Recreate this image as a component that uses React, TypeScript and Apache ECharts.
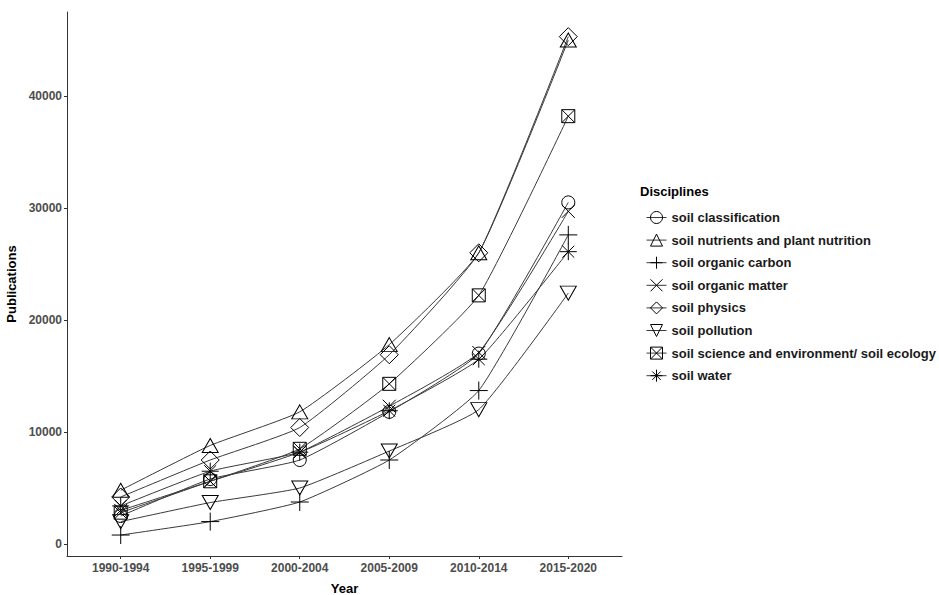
import React, { useEffect, useRef } from "react";
import * as echarts from "echarts";

const categories = ["1990-1994", "1995-1999", "2000-2004", "2005-2009", "2010-2014", "2015-2020"];
const seriesNames = [
  "soil classification",
  "soil nutrients and plant nutrition",
  "soil organic carbon",
  "soil organic matter",
  "soil physics",
  "soil pollution",
  "soil science and environment/ soil ecology",
  "soil water",
];
const classification = [2500, 5800, 7500, 11800, 17000, 30500];
const nutrients = [4800, 8800, 11800, 17800, 26000, 45000];
const carbon = [800, 2000, 3750, 7500, 13700, 27600];
const matter = [3000, 5600, 8200, 12300, 17100, 29700];
const physics = [4200, 7500, 10400, 16900, 26000, 45300];
const pollution = [2000, 3700, 5000, 8300, 12000, 22400];
const ecology = [2800, 5600, 8500, 14300, 22200, 38200];
const water = [3400, 6500, 8200, 11900, 16500, 26100];
const yTicks = [0, 10000, 20000, 30000, 40000];

const allValues = [classification, nutrients, carbon, matter, physics, pollution, ecology, water];

const symbols: { symbol: string; size: number | number[] }[] = [
  { symbol: "circle", size: 13 },
  { symbol: "path://M5,0L10,8.66L0,8.66Z", size: [16, 14] },
  { symbol: "path://M0,5L10,5M5,0L5,10", size: 18 },
  { symbol: "path://M0,0L10,10M10,0L0,10", size: 13 },
  { symbol: "path://M5,0L10,5L5,10L0,5Z", size: 18 },
  { symbol: "path://M0,0L10,0L5,8.66Z", size: [16, 14] },
  { symbol: "path://M0,0L10,0L10,10L0,10ZM0,0L10,10M10,0L0,10", size: 13 },
  { symbol: "path://M5,0L5,10M0,5L10,5M1.5,1.5L8.5,8.5M8.5,1.5L1.5,8.5", size: 17 },
];

const FONT = "'Liberation Sans', Arial, sans-serif";

export default function App() {
  const ref = useRef<HTMLDivElement>(null);
  useEffect(() => {
    if (!ref.current) return;
    const chart = echarts.init(ref.current, null, { renderer: "svg" });
    const series = seriesNames.map((name, k) => ({
      name,
      type: "line",
      data: categories.map((_, i) => [i, allValues[k][i]]),
      symbol: symbols[k].symbol,
      symbolSize: symbols[k].size,
      smooth: 0.15,
      showSymbol: true,
      lineStyle: { color: "#3a3a3a", width: 1 },
      itemStyle: { color: "rgba(0,0,0,0)", borderColor: "#000", borderWidth: 1 },
      emphasis: { disabled: true },
    }));
    chart.setOption({
      animation: false,
      textStyle: { fontFamily: FONT },
      grid: { left: 67, right: 317, top: 12, bottom: 39, containLabel: false, outerBoundsMode: "none" },
      xAxis: {
        type: "value",
        min: -0.6,
        max: 5.6,
        name: "Year",
        nameLocation: "middle",
        nameGap: 26,
        nameTextStyle: { fontFamily: FONT, fontWeight: "bold", fontSize: 13, color: "#000" },
        splitLine: { show: false },
        axisLine: { show: true, onZero: false, lineStyle: { color: "#333", width: 1 } },
        axisTick: { show: true, length: 3, customValues: [0, 1, 2, 3, 4, 5], lineStyle: { color: "#333" } },
        axisLabel: {
          customValues: [0, 1, 2, 3, 4, 5],
          formatter: (v: number) => categories[Math.round(v)] ?? "",
          fontFamily: FONT,
          fontWeight: "bold",
          fontSize: 12,
          color: "#4d4d4d",
          margin: 6,
        },
      },
      yAxis: {
        type: "value",
        min: -1071,
        max: 47500,
        name: "Publications",
        nameLocation: "middle",
        nameGap: 48,
        nameRotate: 90,
        nameTextStyle: { fontFamily: FONT, fontWeight: "bold", fontSize: 13, color: "#000" },
        splitLine: { show: false },
        axisLine: { show: true, onZero: false, lineStyle: { color: "#333", width: 1 } },
        axisTick: { show: true, length: 3, customValues: yTicks, lineStyle: { color: "#333" } },
        axisLabel: {
          customValues: yTicks,
          formatter: (v: number) => String(v),
          fontFamily: FONT,
          fontWeight: "bold",
          fontSize: 12,
          color: "#4d4d4d",
          margin: 5,
        },
      },
      legend: {
        orient: "vertical",
        left: 646,
        top: 211,
        padding: 0,
        itemWidth: 20,
        itemHeight: 15,
        itemGap: 9.6,
        data: seriesNames,
        itemStyle: { borderWidth: 1 },
        lineStyle: { width: 1 },
        textStyle: { fontFamily: FONT, fontWeight: "bold", fontSize: 13, color: "#1a1a1a" },
        selectedMode: false,
      },
      graphic: [
        {
          type: "text",
          left: 640,
          top: 185,
          style: { text: "Disciplines", fontFamily: FONT, fontWeight: "bold", fontSize: 13, fill: "#000" },
        },
      ],
      series,
    });
    return () => chart.dispose();
  }, []);
  return <div ref={ref} style={{ width: 939, height: 595, position: "absolute", left: 0, top: 0 }} />;
}
